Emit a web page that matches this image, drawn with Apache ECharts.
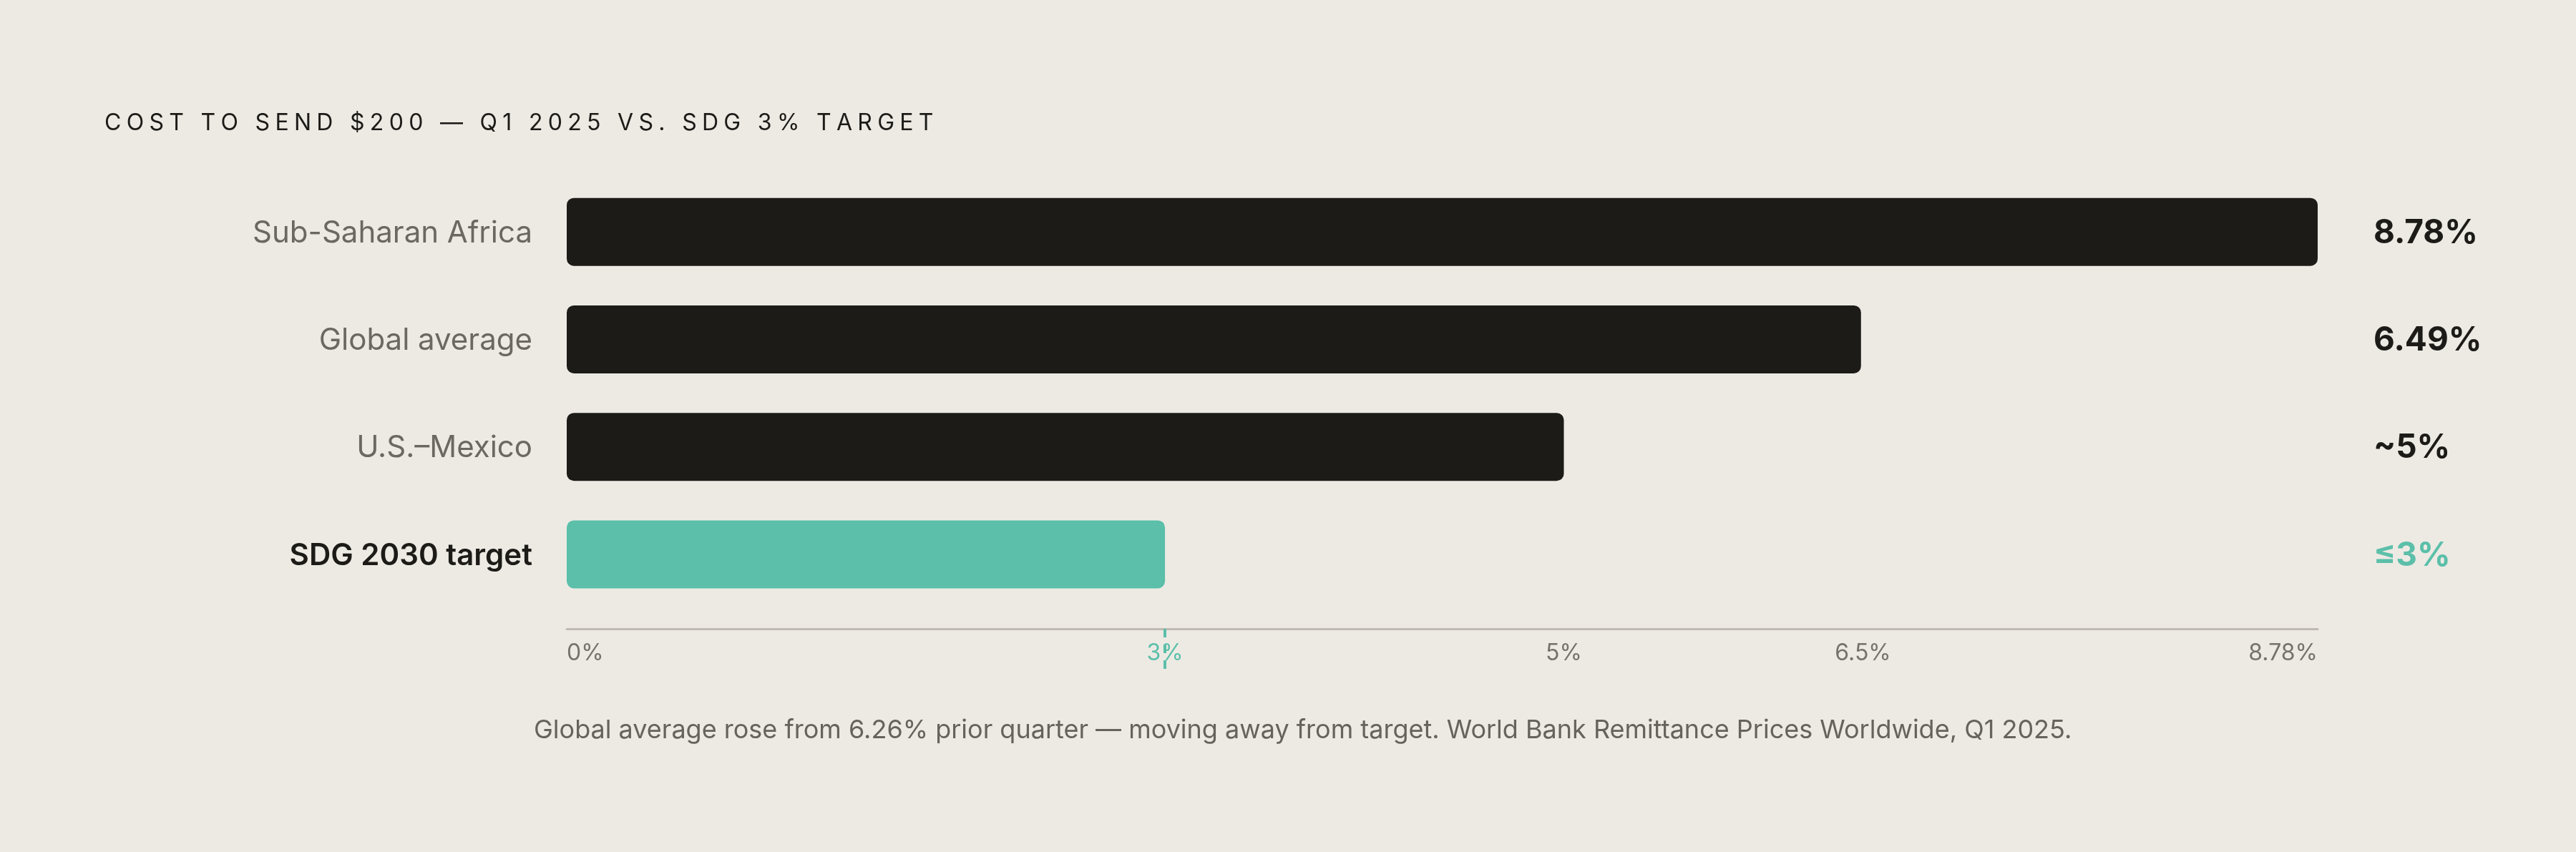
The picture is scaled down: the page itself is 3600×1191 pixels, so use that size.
<!DOCTYPE html>
<html lang="en">
<head>
  <meta charset="UTF-8">
  <title>remittance-cost</title>
  <style>
    html,
    body,
    #main {
      margin: 0;
      padding: 0;
      background: #edeae4;
    }

    #main {
      height: 100vh;
      width: 100vw;
    }
  </style>
</head>
<body>
  <div id="main"></div>
  <script src="https://cdn.jsdelivr.net/npm/echarts@6/dist/echarts.min.js"></script>
  <script>
    const regions = ['Sub-Saharan Africa', 'Global average', 'U.S.–Mexico', 'SDG 2030 target'];
    const costs = [8.78, 6.49, 5, 3];
    const costLabels = ['8.78%', '6.49%', '~5%', '≤3%'];
    const tickValues = [0, 3, 5, 6.5, 8.78];
    const targetValue = 3;

    const title = 'COST TO SEND $200 — Q1 2025 VS. SDG 3% TARGET';
    const note = 'Global average rose from 6.26% prior quarter — moving away from target. World Bank Remittance Prices Worldwide, Q1 2025.';

    const DARK = '#1c1b17';
    const TEAL = '#5bbfa9';
    const GREY = '#6b6862';
    const FONT = 'Inter, "Noto Sans", sans-serif';

    // canvas text has no letter-spacing, so every glyph gets its own padded token
    const spaced = s => s.split('').map(c => '{c|' + c + '}').join('');

    const draw = () => {
      const myChart = echarts.init(document.getElementById('main'));
      const last = regions.length - 1;
      const option = {
        backgroundColor: '#edeae4',
        textStyle: { fontFamily: FONT },
        grid: {
          left: 792,
          right: 361,
          top: 249,
          height: 601,
          containLabel: false
        },
        xAxis: {
          type: 'value',
          min: 0,
          max: 8.78,
          offset: 29,
          splitLine: { show: false },
          axisLine: {
            show: true,
            lineStyle: { color: '#bfbbb4', width: 3 }
          },
          axisTick: {
            show: true,
            customValues: [targetValue],
            length: 56,
            lineStyle: { color: TEAL, width: 4, type: [12, 10], opacity: 1 }
          },
          axisLabel: {
            customValues: tickValues,
            margin: 18,
            fontSize: 32,
            fontFamily: FONT,
            alignMinLabel: 'left',
            alignMaxLabel: 'right',
            formatter: v => (Number(v) === targetValue ? '{t|' + v + '%}' : v + '%'),
            color: '#75726c',
            rich: {
              t: { fontSize: 32, color: TEAL, fontFamily: FONT }
            }
          }
        },
        yAxis: [{
            type: 'category',
            inverse: true,
            data: regions,
            axisLine: { show: false },
            axisTick: { show: false },
            axisLabel: {
              margin: 48,
              fontSize: 42,
              fontFamily: FONT,
              formatter: (v, i) => (i === last ? '{b|' + v + '}' : '{n|' + v + '}'),
              rich: {
                n: { fontSize: 42, color: GREY, fontFamily: FONT, padding: [4, 0, 0, 0] },
                b: { fontSize: 42, color: DARK, fontWeight: 600, fontFamily: FONT, padding: [4, 0, 0, 0] }
              }
            }
          },
          {
            type: 'category',
            inverse: true,
            position: 'right',
            data: costLabels,
            axisLine: { show: false },
            axisTick: { show: false },
            axisLabel: {
              margin: 78,
              align: 'left',
              fontSize: 46,
              fontFamily: FONT,
              formatter: (v, i) => (i === last ? '{t|' + v + '}' : '{d|' + v + '}'),
              rich: {
                d: { fontSize: 46, color: DARK, fontWeight: 700, fontFamily: FONT, padding: [4, 0, 0, 0] },
                t: { fontSize: 46, color: TEAL, fontWeight: 700, fontFamily: FONT, padding: [4, 0, 0, 0] }
              }
            }
          }
        ],
        graphic: [{
            type: 'text',
            left: 146,
            top: 156,
            style: {
              text: spaced(title),
              fontSize: 32,
              fontFamily: FONT,
              fill: DARK,
              rich: {
                c: { fontSize: 32, fontFamily: FONT, fill: DARK, padding: [0, 7.3, 0, 0] }
              }
            }
          },
          {
            type: 'text',
            left: 746,
            top: 1003,
            style: {
              text: note,
              fontSize: 36,
              fontFamily: FONT,
              fill: '#66635d'
            }
          }
        ],
        series: [{
          type: 'bar',
          yAxisIndex: 0,
          barWidth: 95,
          silent: true,
          itemStyle: { borderRadius: 10 },
          data: costs.map((v, i) => ({
            value: v,
            itemStyle: { color: i === last ? TEAL : DARK }
          }))
        }]
      };

      myChart.setOption(option);
    }

    draw();
  </script>
</body>

</html>
